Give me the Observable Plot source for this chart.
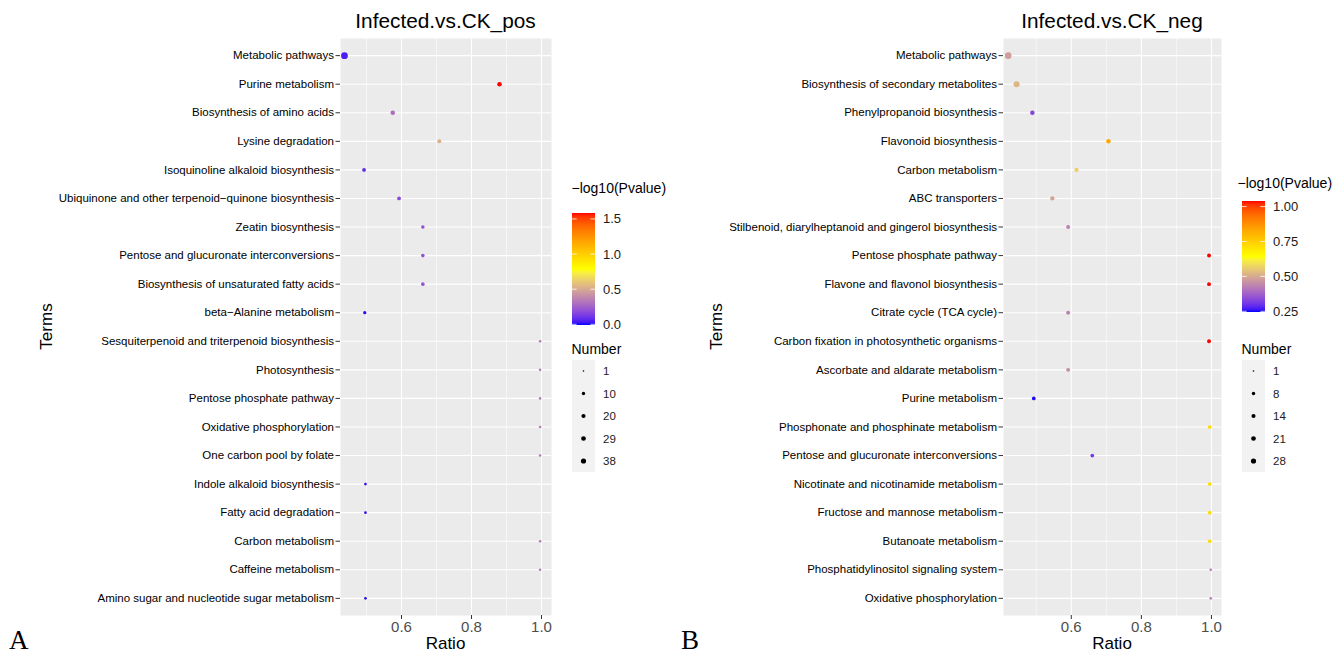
<!DOCTYPE html>
<html><head><meta charset="utf-8">
<script src="https://cdn.jsdelivr.net/npm/d3@7"></script>
<script src="https://cdn.jsdelivr.net/npm/@observablehq/plot@0.6"></script>
<style>
body{margin:0;background:#fff;font-family:"Liberation Sans",Arial,sans-serif;}
#root{position:relative;width:1341px;height:656px;overflow:hidden;background:#fff;}
#root > svg, #root > figure{position:absolute;top:0;margin:0;}
</style></head><body><div id="root"></div>
<script>
// ---------- Panel A: Infected.vs.CK_pos ----------
const termsPos = [
  "Metabolic pathways","Purine metabolism","Biosynthesis of amino acids","Lysine degradation",
  "Isoquinoline alkaloid biosynthesis","Ubiquinone and other terpenoid\u2212quinone biosynthesis",
  "Zeatin biosynthesis","Pentose and glucuronate interconversions","Biosynthesis of unsaturated fatty acids",
  "beta\u2212Alanine metabolism","Sesquiterpenoid and triterpenoid biosynthesis","Photosynthesis",
  "Pentose phosphate pathway","Oxidative phosphorylation","One carbon pool by folate",
  "Indole alkaloid biosynthesis","Fatty acid degradation","Carbon metabolism","Caffeine metabolism",
  "Amino sugar and nucleotide sugar metabolism"];
const ratioPos  = [0.437,0.880,0.575,0.708,0.493,0.593,0.661,0.661,0.661,0.495,0.996,0.996,0.996,0.996,0.996,0.497,0.497,0.996,0.996,0.497];
const numberPos = [38,9,9,5,4,4,3,3,3,2,1,1,1,1,1,1,1,1,1,1];
const pvalPos   = [0.04,1.585,0.30,0.52,0.08,0.17,0.20,0.20,0.20,0.01,0.34,0.34,0.34,0.34,0.34,0.0,0.0,0.34,0.34,0.0];
const colorTicksPos = [0.0,0.5,1.0,1.5];
const sizeBreaksPos = [1,10,20,29,38];

// ---------- Panel B: Infected.vs.CK_neg ----------
const termsNeg = [
  "Metabolic pathways","Biosynthesis of secondary metabolites","Phenylpropanoid biosynthesis",
  "Flavonoid biosynthesis","Carbon metabolism","ABC transporters",
  "Stilbenoid, diarylheptanoid and gingerol biosynthesis","Pentose phosphate pathway",
  "Flavone and flavonol biosynthesis","Citrate cycle (TCA cycle)","Carbon fixation in photosynthetic organisms",
  "Ascorbate and aldarate metabolism","Purine metabolism","Phosphonate and phosphinate metabolism",
  "Pentose and glucuronate interconversions","Nicotinate and nicotinamide metabolism",
  "Fructose and mannose metabolism","Butanoate metabolism","Phosphatidylinositol signaling system",
  "Oxidative phosphorylation"];
const ratioNeg  = [0.420,0.444,0.489,0.706,0.615,0.546,0.591,0.993,0.993,0.591,0.993,0.591,0.493,0.995,0.660,0.995,0.995,0.995,0.998,0.998];
const numberNeg = [28,22,7,7,6,6,4,4,4,4,4,4,3,3,3,3,3,3,1,1];
const pvalNeg   = [0.48,0.52,0.33,0.83,0.565,0.49,0.43,1.04,1.04,0.43,1.04,0.45,0.25,0.72,0.31,0.72,0.72,0.72,0.42,0.42];
const colorTicksNeg = [0.25,0.50,0.75,1.00];
const sizeBreaksNeg = [1,8,14,21,28];

const xTicks = [0.6,0.8,1.0];
const xMinor = [0.5,0.7,0.9];
const FONT = '"Liberation Sans", Arial, Helvetica, sans-serif';

const root = document.getElementById("root");

function panel(cfg) {
  const data = cfg.terms.map((t,i)=>({term:t, ratio:cfg.ratio[i], n:cfg.number[i], p:cfg.pval[i]}));
  const nMax = d3.max(cfg.sizeBreaks);
  const plot = Plot.plot({
    width: cfg.width, height: 656,
    marginLeft: cfg.ml, marginRight: cfg.mr, marginTop: 38, marginBottom: 41,
    style: {fontFamily: FONT, background: "transparent", overflow: "visible"},
    x: {domain: cfg.xDomain},
    y: {type: "point", domain: cfg.terms, padding: 0.6, round: false},
    r: {type: "sqrt", domain: [0, nMax - 1], range: cfg.rRange},
    color: {type: "linear", domain: cfg.cDomain, range: ["blue","yellow","red"], interpolate: "lab"},
    marks: [
      Plot.frame({fill: "#EBEBEB", stroke: "none"}),
      Plot.gridX(xMinor, {stroke: "white", strokeOpacity: 1, strokeWidth: 0.55}),
      Plot.gridX(xTicks, {stroke: "white", strokeOpacity: 1, strokeWidth: 1.1}),
      Plot.gridY(cfg.terms, {stroke: "white", strokeOpacity: 1, strokeWidth: 1.1}),
      Plot.axisY({tickSize: 4.5, tickPadding: 2, fontSize: 11.5, stroke: "#333333", fill: "#000", label: null}),
      Plot.axisX(xTicks, {tickFormat: d3.format(".1f"), tickSize: 4, tickPadding: 2, fontSize: 15, stroke: "#333333", fill: "#4D4D4D", label: null}),
      Plot.dot(data, {x: "ratio", y: "term", r: d => d.n - 1, fill: "p", stroke: "none"})
    ]
  });
  plot.style.left = cfg.left + "px";
  root.appendChild(plot);
}

const cfgA = {terms: termsPos, ratio: ratioPos, number: numberPos, pval: pvalPos,
  sizeBreaks: sizeBreaksPos, left: 0, width: 560, ml: 340, mr: 9,
  xDomain: [0.4257, 1.0286], rRange: [1.3, 3.4], cDomain: [-0.01, 0.7875, 1.585]};
const cfgB = {terms: termsNeg, ratio: ratioNeg, number: numberNeg, pval: pvalNeg,
  sizeBreaks: sizeBreaksNeg, left: 670, width: 560, ml: 333, mr: 9,
  xDomain: [0.4066, 1.0286], rRange: [1.3, 3.3], cDomain: [0.245, 0.6425, 1.04]};
panel(cfgA);
panel(cfgB);

// ---------- overlay: titles, axis titles, legends, panel letters ----------
const svg = d3.select(root).append("svg")
  .attr("width", 1341).attr("height", 656)
  .style("left", "0px").style("pointer-events", "none")
  .attr("font-family", FONT);
const defs = svg.append("defs");

function txt(x, y, s, size, opts = {}) {
  const t = svg.append("text").attr("x", x).attr("y", y).text(s)
    .attr("font-size", size).attr("fill", opts.fill || "#000")
    .attr("text-anchor", opts.anchor || "start")
    .attr("dominant-baseline", "central");
  if (opts.family) t.attr("font-family", opts.family);
  if (opts.rotate) t.attr("transform", `rotate(-90,${x},${y})`);
  return t;
}

function decorations(cfg, L) {
  txt(L.cx, 20, L.title, 20.8, {anchor: "middle"});
  txt(L.cx, 643, "Ratio", 17, {anchor: "middle"});
  txt(L.termsX, 326.5, "Terms", 17, {anchor: "middle", rotate: true});
  // colour bar
  const cs = d3.scaleLinear().domain(cfg.cDomain).range(["blue","yellow","red"]).interpolate(d3.interpolateLab);
  const lo = cfg.cDomain[0], hi = cfg.cDomain[2];
  const gid = "grad" + L.id;
  const grad = defs.append("linearGradient").attr("id", gid).attr("x1", 0).attr("x2", 0).attr("y1", 1).attr("y2", 0);
  for (let k = 0; k <= 40; k++) {
    grad.append("stop").attr("offset", k / 40).attr("stop-color", cs(lo + (hi - lo) * k / 40));
  }
  txt(L.titleX, L.titleY, "\u2212log10(Pvalue)", 14);
  const w = 23;
  svg.append("rect").attr("x", L.x).attr("y", L.barTop).attr("width", w).attr("height", L.barBottom - L.barTop)
    .attr("fill", `url(#${gid})`);
  const yb = d3.scaleLinear().domain([lo, hi]).range([L.barBottom, L.barTop]);
  for (const v of cfg.colorTicks) {
    const y = yb(v);
    svg.append("line").attr("x1", L.x).attr("x2", L.x + 4.6).attr("y1", y).attr("y2", y).attr("stroke", "white").attr("stroke-width", 0.8);
    svg.append("line").attr("x1", L.x + w - 4.6).attr("x2", L.x + w).attr("y1", y).attr("y2", y).attr("stroke", "white").attr("stroke-width", 0.8);
    txt(L.x + w + 8, y, L.fmt(v), 13, {fill: "#1a1a1a"});
  }
  // size legend
  txt(L.x - 0.5, 349, "Number", 14);
  svg.append("rect").attr("x", L.x).attr("y", 360).attr("width", w).attr("height", 112).attr("fill", "#F2F2F2");
  const nMax = d3.max(cfg.sizeBreaks);
  const rs = d3.scaleSqrt().domain([0, nMax - 1]).range([0.8, 2.6]);
  cfg.sizeBreaks.forEach((n, i) => {
    const y = 371 + i * 22.5;
    svg.append("circle").attr("cx", L.x + w / 2).attr("cy", y).attr("r", rs(n - 1)).attr("fill", "#000");
    txt(L.x + w + 8, y, String(n), 11.5, {fill: "#1a1a1a"});
  });
  txt(L.letterX, 640, L.letter, 27, {family: '"Liberation Serif", "Times New Roman", serif'});
}

decorations({...cfgA, colorTicks: colorTicksPos},
  {id: "A", title: "Infected.vs.CK_pos", cx: 445.5, termsX: 46, x: 572, titleX: 571.5, titleY: 188,
   barTop: 213, barBottom: 325, fmt: d3.format(".1f"), letter: "A", letterX: 9});
decorations({...cfgB, colorTicks: colorTicksNeg},
  {id: "B", title: "Infected.vs.CK_neg", cx: 1112, termsX: 716, x: 1242, titleX: 1237.5, titleY: 183,
   barTop: 201, barBottom: 312, fmt: d3.format(".2f"), letter: "B", letterX: 681});
</script></body></html>
